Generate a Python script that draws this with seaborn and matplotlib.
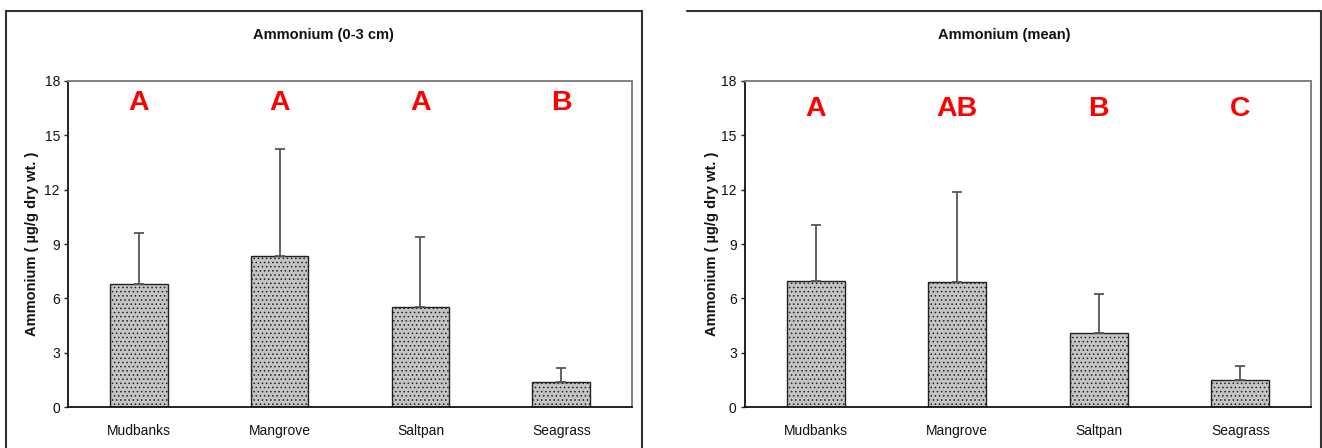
import matplotlib
matplotlib.use("Agg")
import matplotlib.pyplot as plt
import seaborn as sns
import pandas as pd
from matplotlib.lines import Line2D

# ---- data ----
sites = ["Mudbanks", "Mangrove", "Saltpan", "Seagrass"]
top_means = [6.78, 8.33, 5.51, 1.38]
top_err = [2.83, 5.90, 3.86, 0.77]
top_letters = ["A", "A", "A", "B"]
mean_means = [6.98, 6.93, 4.10, 1.49]
mean_err = [3.04, 4.94, 2.13, 0.81]
mean_letters = ["A", "AB", "B", "C"]
titles = ["Ammonium (0-3 cm)", "Ammonium (mean)"]
ylabel = "Ammonium ( µg/g dry wt. )"
yticks = [0, 3, 6, 9, 12, 15, 18]
letter_y = [16.75, 16.45]

sns.set_theme(style="white")
plt.rcParams["font.family"] = ["Liberation Sans", "DejaVu Sans"]
plt.rcParams["hatch.linewidth"] = 0.6

W, H = 1322, 448
fig = plt.figure(figsize=(W / 100, H / 100), dpi=100)

def fx(px):
    return px / W

def fy(py):
    return 1 - py / H

axes_px = [(68.3, 631.7), (745.0, 1311.0)]
top_px, bot_px = 80.7, 407.3
title_x = [323.7, 1004.0]
ylab_x = [32, 712]

datasets = [(top_means, top_err, top_letters), (mean_means, mean_err, mean_letters)]

for i, ((l, r), (means, errs, letters)) in enumerate(zip(axes_px, datasets)):
    ax = fig.add_axes([fx(l), fy(bot_px), fx(r - l), (bot_px - top_px) / H])
    df = pd.DataFrame({"site": sites, "value": means})
    sns.barplot(data=df, x="site", y="value", ax=ax, width=0.41,
                color="#c4c4c4", edgecolor="#222222", linewidth=1.0,
                hatch="....", errorbar=None, saturation=1)
    for p in ax.patches:
        p.set_facecolor("#c4c4c4")
        p.set_edgecolor("#222222")
    ax.errorbar(range(len(sites)), means, yerr=[[0] * len(errs), errs],
                fmt="none", ecolor="#555555", elinewidth=1.3, capsize=3.5,
                capthick=1.3, zorder=1)
    ax.set_xlim(-0.5, 3.5)
    ax.set_ylim(0, 18)
    ax.set_yticks(yticks)
    ax.set_yticklabels([str(t) for t in yticks], fontsize=10, color="#111111")
    ax.set_xticks(range(len(sites)))
    ax.set_xticklabels(sites, fontsize=10, color="#111111")
    ax.tick_params(axis="y", length=3, width=1, direction="out", pad=3, left=True, color="#222222")
    ax.tick_params(axis="x", length=0, pad=12)
    ax.set_xlabel("")
    ax.set_ylabel("")
    for s in ["left", "bottom"]:
        ax.spines[s].set_color("#111111")
        ax.spines[s].set_linewidth(1.3)
    for s in ["top", "right"]:
        ax.spines[s].set_visible(True)
        ax.spines[s].set_color("#808080")
        ax.spines[s].set_linewidth(1.4)
    for j, lt in enumerate(letters):
        ax.text(j, letter_y[i], lt, color="#ff0000", fontsize=20.5, fontweight="bold",
                ha="center", va="center")
    fig.text(fx(title_x[i]), fy(35), titles[i], fontsize=10.5, fontweight="bold",
             ha="center", va="center", color="#111111")
    fig.text(fx(ylab_x[i]), fy((top_px + bot_px) / 2), ylabel, fontsize=10.5,
             fontweight="bold", rotation=90, ha="center", va="center", color="#111111")

# outer frames
bc = "#333333"
lw = 1.5
fig.add_artist(Line2D([fx(5.7), fx(5.7)], [fy(11), fy(450)], color=bc, lw=lw))
fig.add_artist(Line2D([fx(5.7), fx(641.7)], [fy(11), fy(11)], color=bc, lw=lw))
fig.add_artist(Line2D([fx(641.7), fx(641.7)], [fy(11), fy(450)], color=bc, lw=lw))
fig.add_artist(Line2D([fx(686.7), fx(1321)], [fy(11), fy(11)], color=bc, lw=lw))
fig.add_artist(Line2D([fx(1321), fx(1321)], [fy(11), fy(450)], color=bc, lw=lw))

fig.savefig("out.png", dpi=100)
